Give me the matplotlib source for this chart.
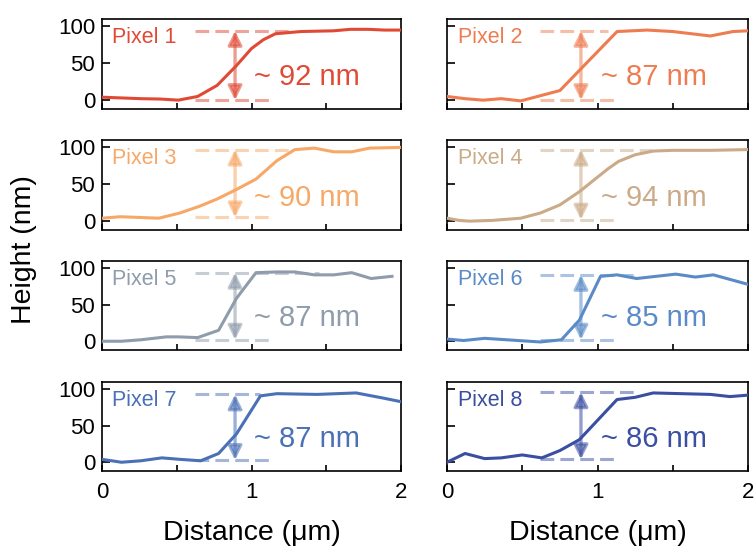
import matplotlib
matplotlib.use("Agg")
import matplotlib.pyplot as plt

plt.rcParams['font.family'] = ['Liberation Sans', 'DejaVu Sans']

# ---- data ----
pixel_names = ["Pixel 1", "Pixel 2", "Pixel 3", "Pixel 4",
               "Pixel 5", "Pixel 6", "Pixel 7", "Pixel 8"]
step_labels = ["~ 92 nm", "~ 87 nm", "~ 90 nm", "~ 94 nm",
               "~ 87 nm", "~ 85 nm", "~ 87 nm", "~ 86 nm"]
colors = ["#E04A35", "#EE7C50", "#F7A866", "#CBAA88",
          "#8E9CAB", "#5A8BC7", "#4A70B6", "#3A4EA2"]

pixel1_x = [0, 0.13, 0.26, 0.39, 0.51, 0.64, 0.77, 0.9, 1.0, 1.08, 1.16, 1.33, 1.55, 1.66, 1.78, 1.89, 2.0]
pixel1_y = [4, 3, 2, 1.5, 0, 5, 20, 47, 70, 82, 90, 93, 94, 96, 96, 95, 95]
pixel2_x = [0, 0.12, 0.24, 0.36, 0.49, 0.75, 1.13, 1.33, 1.5, 1.75, 1.9, 2.0]
pixel2_y = [5, 2, 0, 2, -1, 13, 93, 95, 93, 87, 93, 94]
pixel3_x = [0, 0.12, 0.38, 0.52, 0.65, 0.77, 0.9, 1.03, 1.17, 1.29, 1.42, 1.55, 1.67, 1.79, 2.0]
pixel3_y = [4, 6, 4, 11, 20, 30, 43, 57, 82, 97, 99, 94, 94, 99, 100]
pixel4_x = [0, 0.08, 0.15, 0.3, 0.49, 0.62, 0.75, 0.88, 0.99, 1.07, 1.14, 1.25, 1.37, 1.5, 1.75, 2.0]
pixel4_y = [4, 1, 0, 1, 4, 11, 22, 40, 58, 71, 81, 90, 95, 96, 96, 97]
pixel5_x = [0, 0.13, 0.26, 0.43, 0.51, 0.64, 0.78, 0.9, 1.03, 1.17, 1.29, 1.42, 1.55, 1.67, 1.8, 1.94]
pixel5_y = [0, 0, 2, 6, 6, 5, 15, 59, 94, 95, 95, 91, 91, 94, 86, 89]
pixel6_x = [0, 0.11, 0.25, 0.62, 0.76, 0.88, 1.02, 1.13, 1.26, 1.52, 1.65, 1.77, 2.0]
pixel6_y = [3, 1, 4, -1, 2, 29, 89, 91, 86, 92, 88, 91, 78]
pixel7_x = [0, 0.13, 0.26, 0.4, 0.52, 0.66, 0.78, 0.9, 1.06, 1.17, 1.44, 1.7, 1.88, 2.0]
pixel7_y = [4, 0, 2, 6, 4, 2, 12, 39, 91, 94, 93, 95, 88, 83]
pixel8_x = [0, 0.12, 0.25, 0.36, 0.5, 0.63, 0.75, 0.88, 1.13, 1.25, 1.37, 1.75, 1.88, 2.0]
pixel8_y = [0, 12, 5, 6, 10, 6, 16, 31, 86, 89, 95, 93, 90, 92]

xs = [pixel1_x, pixel2_x, pixel3_x, pixel4_x, pixel5_x, pixel6_x, pixel7_x, pixel8_x]
ys = [pixel1_y, pixel2_y, pixel3_y, pixel4_y, pixel5_y, pixel6_y, pixel7_y, pixel8_y]

# step annotation levels (nm)
step_top = [94, 94, 97, 97, 94, 91, 93, 96]
step_bottom = [0, 0, 5, 2, 2, 2, 3, 4]
top_dash_end = [1.26, 1.07, 1.28, 1.36, 1.45, 1.26, 1.06, 1.25]
dash_start = 0.62
bottom_dash_end = 1.13
arrow_x = 0.89

x_ticks = [0, 1, 2]
y_ticks = [0, 50, 100]

# ---- layout ----
W, H = 756, 552
fig = plt.figure(figsize=(W / 100, H / 100), dpi=100)
col_lr = [(102, 401), (447, 748)]
row_tb = [(19, 109), (140, 230), (261, 350), (382, 471)]

for i in range(8):
    r, c = divmod(i, 2)
    l, rr = col_lr[c]
    t, b = row_tb[r]
    ax = fig.add_axes([l / W, 1 - b / H, (rr - l) / W, (b - t) / H])
    col = colors[i]
    ax.plot(xs[i], ys[i], color=col, lw=2.2, zorder=3)
    ax.plot([dash_start, top_dash_end[i]], [step_top[i]] * 2, color=col, lw=2.2,
            alpha=0.5, dashes=(4.5, 2.0), zorder=2)
    ax.plot([dash_start, bottom_dash_end], [step_bottom[i]] * 2, color=col, lw=2.2,
            alpha=0.5, dashes=(4.5, 2.0), zorder=2)
    ax.annotate('', xy=(arrow_x, step_top[i]), xytext=(arrow_x, step_bottom[i]),
                arrowprops=dict(arrowstyle='<|-|>,head_length=0.6,head_width=0.3',
                                mutation_scale=14, lw=2.4, color=col, alpha=0.55,
                                shrinkA=0, shrinkB=0), zorder=2)
    ax.text(0.035, 0.79, pixel_names[i], transform=ax.transAxes, color=col,
            fontsize=15.5, va='center', ha='left')
    ax.text(1.02, 32, step_labels[i], color=col, fontsize=21, va='center', ha='left')
    ax.set_xlim(0, 2)
    ax.set_ylim(-12, 110)
    ax.set_xticks(x_ticks)
    ax.set_xticks([0.5, 1.5], minor=True)
    ax.set_yticks(y_ticks)
    ax.tick_params(axis='both', which='both', direction='in', width=1.2)
    ax.tick_params(axis='y', length=6)
    ax.tick_params(axis='x', which='both', length=4)
    ax.tick_params(labelsize=16, pad=5)
    for s in ax.spines.values():
        s.set_linewidth(1.2)
    if r < 3:
        ax.set_xticklabels([])
    else:
        ax.tick_params(axis='x', pad=8)
    if c == 1:
        ax.set_yticklabels([])

fig.text(24 / W, 1 - 250 / H, "Height (nm)", rotation=90, fontsize=20.5,
         ha='center', va='center')
for l, rr in col_lr:
    fig.text((l + rr) / 2 / W, 1 - 533 / H, "Distance (\u03bcm)", fontsize=20.5,
             ha='center', va='center')

fig.savefig("out.png", dpi=100)
